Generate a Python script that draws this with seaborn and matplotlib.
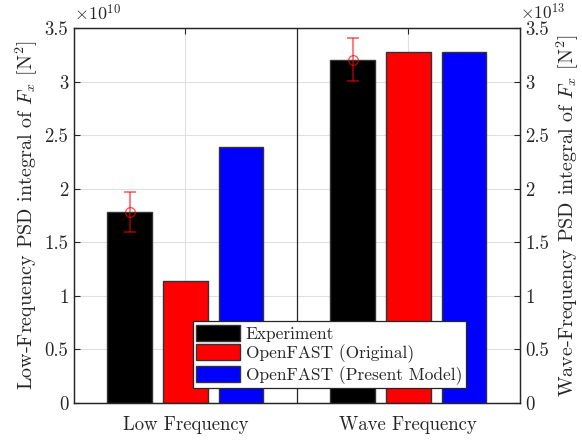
import matplotlib
matplotlib.use("Agg")
import matplotlib.pyplot as plt
import seaborn as sns
import pandas as pd
from matplotlib.ticker import FuncFormatter, MultipleLocator

# PSD integrals of the surge force, in units of 1e10 N^2 (low) and 1e13 N^2 (wave)
categories = ["Low Frequency", "Wave Frequency"]
sources = ["Experiment", "OpenFAST (Original)", "OpenFAST (Present Model)"]
low_freq = [1.785, 1.14, 2.395]
wave_freq = [3.205, 3.275, 3.28]
exp_err_low = 0.185
exp_err_wave = 0.20
colors = ["#000000", "#ff0000", "#0000ff"]

sns.set_style("white")
plt.rcParams.update({
    "font.family": "serif",
    "font.serif": ["cmr10"],
    "mathtext.fontset": "cm",
    "axes.formatter.use_mathtext": True,
    "font.size": 13.5,
    "axes.unicode_minus": False,
})

df_low = pd.DataFrame({"band": categories[0], "source": sources, "value": low_freq})
df_wave = pd.DataFrame({"band": categories[1], "source": sources, "value": wave_freq})

fig = plt.figure(figsize=(5.82, 4.40), dpi=100)
ax = fig.add_axes([0.127, 0.084, 0.766, 0.852])
ax2 = ax.twinx()

bar_kw = dict(x="band", y="value", hue="source", order=categories, hue_order=sources,
              palette=colors, width=0.75, gap=0.2, edgecolor="#333333", linewidth=1.0,
              saturation=1)
sns.barplot(data=df_low, ax=ax, legend=False, **bar_kw)
sns.barplot(data=df_wave, ax=ax2, legend=True, **bar_kw)

# error bars on the experimental values, centred on the experiment bars
def exp_center(axis, value):
    for p in axis.patches:
        if abs(p.get_height() - value) < 1e-9:
            return p.get_x() + p.get_width() / 2
    return None

err_style = dict(fmt="o", mfc="none", color="red", alpha=0.65, markersize=7,
                 capsize=4, elinewidth=1.1, capthick=1.1, zorder=5)
ax.errorbar(exp_center(ax, low_freq[0]), low_freq[0], yerr=exp_err_low, **err_style)
ax2.errorbar(exp_center(ax2, wave_freq[0]), wave_freq[0], yerr=exp_err_wave, **err_style)

for a in (ax, ax2):
    a.set_ylim(0, 3.5)
    a.yaxis.set_major_locator(MultipleLocator(0.5))
    a.yaxis.set_major_formatter(FuncFormatter(lambda v, p: f"{v:g}"))
    a.set_xlim(-0.5, 1.5)
    for s in a.spines.values():
        s.set_color("#262626")
        s.set_linewidth(0.9)
    a.tick_params(direction="in", length=4, color="#262626", labelsize=13.5, pad=4)
    a.set_xlabel("")

ax.tick_params(axis="x", top=True, bottom=True, pad=9)
ax.grid(True, color="#e0e0e0", linewidth=0.8)
ax.set_axisbelow(True)
ax.axvline(0.5, color="#262626", linewidth=0.9, zorder=1)

ax.set_ylabel(r"Low-Frequency PSD integral of $F_x$ [N$^2$]", fontsize=14.5, labelpad=3)
ax2.set_ylabel(r"Wave-Frequency PSD integral of $F_x$ [N$^2$]", fontsize=14.5,
               rotation=90, labelpad=4)
ax.text(0.0, 1.012, r"$\times10^{10}$", transform=ax.transAxes, ha="left", va="bottom",
        fontsize=13)
ax2.text(1.0, 1.016, r"$\times10^{13}$", transform=ax2.transAxes, ha="left", va="bottom",
         fontsize=12.5)

leg = ax2.legend(loc="lower left", bbox_to_anchor=(0.267, 0.04), fancybox=False,
                 frameon=True, edgecolor="#262626", framealpha=1, fontsize=12.5,
                 handlelength=2.5, handleheight=1.05, labelspacing=0.15,
                 borderpad=0.2, handletextpad=0.35, borderaxespad=0)
leg.get_frame().set_linewidth(0.9)
leg.set_zorder(10)

fig.savefig("out.png", dpi=100)
